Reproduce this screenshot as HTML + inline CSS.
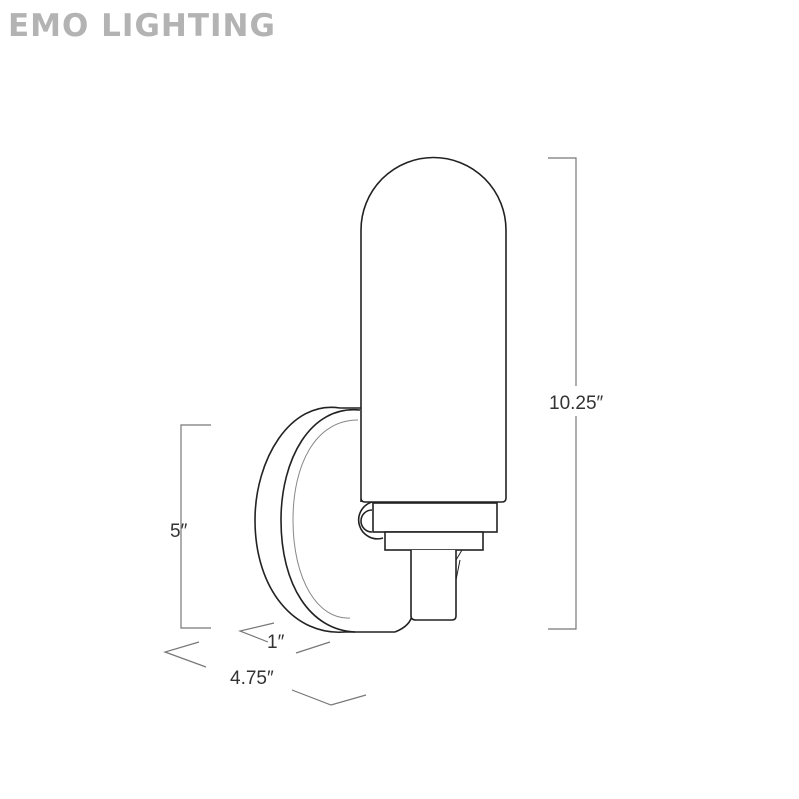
<!DOCTYPE html>
<html><head><style>body{margin:0;background:#fff}svg{display:block}</style></head><body>
<svg width="799" height="799" viewBox="0 0 799 799" xmlns="http://www.w3.org/2000/svg">
<text x="8" y="36" font-family="'DejaVu Sans','Liberation Sans',sans-serif" font-weight="bold" font-size="31" fill="#b3b3b3" letter-spacing="1">EMO LIGHTING</text>
<g fill="none" stroke="#222" stroke-width="1.6">
<path d="M340 408 C290 400 255 460 255 520 C255 590 295 636 345 632 L395 632"/>
<path d="M360 410 C310 405 281 460 281 520 C281 585 310 630 355 632"/>
<path d="M358 420 C315 420 293 465 293 520 C293 580 318 620 350 618" stroke="#888" stroke-width="1"/>
<path d="M340 408 L361 408"/>
<path d="M395 632 C405 628 411 622 412 615"/>
<path d="M372 502 A17 17 0 1 0 383 538" fill="#fff"/>
<path d="M372 510 A10 10 0 0 0 372 532"/>
<path d="M361 502 L361 230 A72.5 72.5 0 0 1 506 230 L506 498 Q506 502 502 502 L365 502 Q361 502 361 498" fill="#fff"/>
<rect x="373" y="503" width="124" height="29" fill="#fff"/>
<rect x="385" y="532" width="98" height="18" fill="#fff"/>
<path d="M411 550 L411 616 Q411 620 416 620 L452 620 Q456 620 456 616 L456 550" fill="#fff"/>
<path d="M456 560 L462 550 M456 580 L460 560" stroke-width="1"/>
</g>
<g fill="none" stroke="#777" stroke-width="1.2">
<path d="M548 158 L576 158 L576 629 L548 629"/>
<path d="M211 425 L181 425 L181 628 L211 628"/>
<path d="M274 623 L240 631 L268 642"/>
<path d="M296 653 L330 642"/>
<path d="M199 642 L165 652 L206 667"/>
<path d="M292 690 L331 705 L366 695"/>
</g>
<rect x="546" y="386" width="64" height="30" fill="#fff"/>
<g font-family="'Liberation Sans',sans-serif" font-size="19" fill="#333">
<text x="549" y="409">10.25″</text>
<text x="170" y="537">5″</text>
<text x="267" y="648">1″</text>
<text x="230" y="684">4.75″</text>
</g>
</svg>
</body></html>
